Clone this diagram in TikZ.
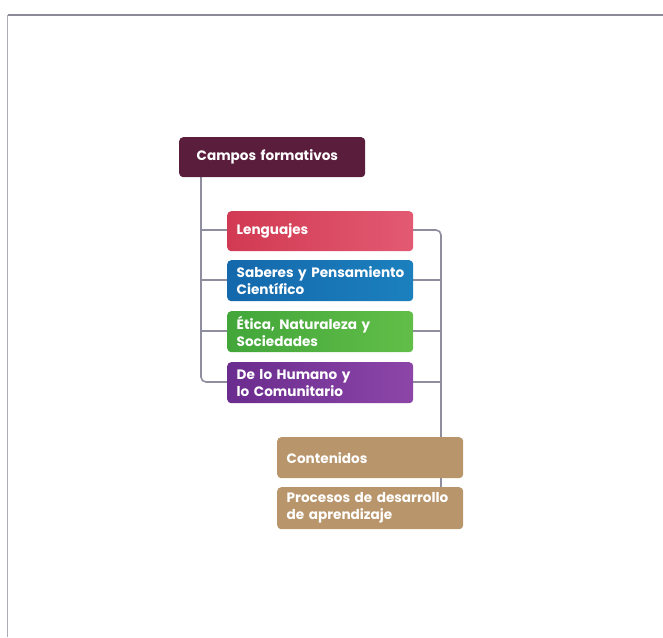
\documentclass[tikz,border=0pt]{standalone}
\usepackage{fontspec}
\setmainfont{Poppins}
\definecolor{maroon}{HTML}{5A1D3C}
\definecolor{redA}{HTML}{D13A52}
\definecolor{redB}{HTML}{E25A72}
\definecolor{blueA}{HTML}{1468AC}
\definecolor{blueB}{HTML}{1C80BE}
\definecolor{greenA}{HTML}{42A63A}
\definecolor{greenB}{HTML}{62BE48}
\definecolor{purpA}{HTML}{6A2C8E}
\definecolor{purpB}{HTML}{8C46A8}
\definecolor{tan}{HTML}{B8956B}
\definecolor{linec}{HTML}{8E8E9E}
\definecolor{framec}{HTML}{8A8A98}
\newcommand{\myboxfont}{\bfseries\fontsize{13.6}{17}\selectfont\hyphenpenalty=10000 \hbadness=10000 \hfuzz=50pt\relax}
\begin{document}
\begin{tikzpicture}[x=1pt,y=-1pt,
  box/.style={rounded corners=4pt, minimum width=186pt, minimum height=40pt,
    text=white, font=\myboxfont, align=left,
    text width=167pt, inner xsep=9.5pt, anchor=north west},
  conn/.style={draw=linec, line width=1.6pt, rounded corners=5pt}]
\useasboundingbox (0,0) rectangle (663,637);
\draw[framec, line width=1.2pt] (8,15) -- (663,15);
\draw[framec!70, line width=1pt] (7,15) -- (7,637);
% connectors
\draw[conn] (201,177) -- (201,382) -- (227,382);
\draw[conn] (201,230) -- (227,230);
\draw[conn] (201,280) -- (227,280);
\draw[conn] (201,331) -- (227,331);
\draw[conn] (413,230) -- (441,230) -- (441,490);
\draw[conn] (413,280) -- (441,280);
\draw[conn] (413,331) -- (441,331);
\draw[conn] (413,382) -- (441,382);
% nodes
\node[box, fill=maroon, text width=151pt, inner xsep=17.5pt] (campos) at (179,137) {Campos formativos};
\node[box, left color=redA, right color=redB] (leng) at (227,211) {Lenguajes};
\node[box, left color=blueA, right color=blueB, minimum height=41pt] (sab) at (227,260) {Saberes~y~Pensamiento\\Científico};
\node[box, left color=greenA, right color=greenB, minimum height=41pt] (etica) at (227,311) {Ética,~Naturaleza~y\\Sociedades};
\node[box, left color=purpA, right color=purpB, minimum height=41pt] (hum) at (227,362) {De~lo~Humano~y\\lo Comunitario};
\node[box, fill=tan, minimum height=41pt] (cont) at (277,437) {Contenidos};
\node[box, fill=tan, minimum height=42pt] (proc) at (277,487) {Procesos~de~desarrollo\\de aprendizaje};
\end{tikzpicture}
\end{document}
